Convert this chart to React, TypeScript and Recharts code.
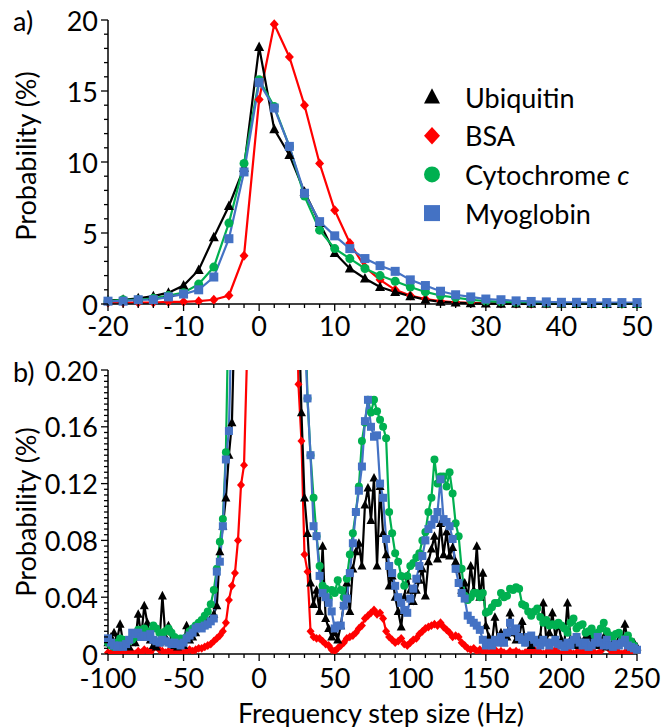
import React from "react";
import { Legend, Line, LineChart, XAxis, YAxis } from "recharts";

const FONT = "Lato, 'Open Sans', sans-serif";
const FS = 27;

// panel a) 2 Hz bins
const freqA = [
  -20, -18, -16, -14, -12, -10, -8, -6, -4, -2, 0, 2, 4, 6, 8, 10, 12, 14, 16, 18,
  20, 22, 24, 26, 28, 30, 32, 34, 36, 38, 40, 42, 44, 46, 48, 50,
];
const ubiquitinA = [
  0.25, 0.3, 0.4, 0.55, 0.8, 1.3, 2.4, 4.7, 6.9, 9.6, 18.1, 12.3, 10.5, 7.9, 5.7, 3.6, 2.5, 1.8, 1.2, 0.85,
  0.55, 0.3, 0.15, 0.1, 0.05, 0.03, 0.02, 0.02, 0.01, 0.01, 0.01, 0, 0, 0, 0, 0,
];
const bsaA = [
  0.1, 0.1, 0.1, 0.1, 0.15, 0.15, 0.2, 0.3, 0.6, 3.4, 14.4, 19.7, 17.4, 14.0, 9.9, 6.6, 4.3, 2.6, 1.7, 1.0,
  0.6, 0.35, 0.2, 0.12, 0.08, 0.05, 0.03, 0.02, 0.01, 0.01, 0.01, 0.01, 0.01, 0.01, 0.01, 0.01,
];
const cytochromeA = [
  0.2, 0.3, 0.3, 0.4, 0.6, 0.8, 1.4, 2.6, 5.7, 9.9, 15.8, 13.9, 11.1, 7.6, 5.2, 3.9, 3.2, 2.5, 2.0, 1.6,
  1.2, 0.85, 0.6, 0.45, 0.3, 0.2, 0.15, 0.1, 0.08, 0.06, 0.05, 0.04, 0.03, 0.02, 0.02, 0.01,
];
const myoglobinA = [
  0.2, 0.2, 0.3, 0.3, 0.5, 0.7, 1.0, 1.9, 4.6, 9.3, 15.6, 13.8, 11.1, 7.8, 5.8, 4.8, 3.9, 3.2, 2.7, 2.3,
  1.7, 1.3, 0.9, 0.65, 0.5, 0.35, 0.3, 0.22, 0.18, 0.15, 0.12, 0.12, 0.1, 0.1, 0.1, 0.1,
];

// panel b) 2 Hz bins from -100 to 250 Hz
const freqB = Array.from({ length: 176 }, (_, i) => -100 + 2 * i);
const ubiquitinB = [
  0.008, 0.012, 0.015, 0.010, 0.021, 0.008, 0.006, 0.005, 0.013, 0.008, // -100
  0.028, 0.012, 0.034, 0.022, 0.010, 0.006, 0.005, 0.008, 0.041, 0.012, // -80
  0.020, 0.010, 0.006, 0.005, 0.008, 0.006, 0.020, 0.010, 0.012, 0.015, // -60
  0.018, 0.020, 0.022, 0.023, 0.025, 0.028, 0.034, 0.072, 0.090, 0.110, // -40
  0.140, 0.163, 0.25, 0.5, 0.8, 1.3, 2.4, 4.7, 6.9, 9.6, // -20
  18.1, 12.3, 10.5, 7.9, 5.7, 3.6, 2.5, 1.8, 1.2, 0.85, // 0
  0.55, 0.4, 0.3, 0.25, 0.17, 0.11, 0.085, 0.05, 0.035, 0.045, // 20
  0.030, 0.076, 0.025, 0.018, 0.012, 0.015, 0.010, 0.020, 0.035, 0.050, // 40
  0.030, 0.060, 0.072, 0.078, 0.062, 0.105, 0.117, 0.094, 0.124, 0.062, // 60
  0.118, 0.085, 0.070, 0.048, 0.055, 0.040, 0.030, 0.019, 0.040, 0.055, // 80
  0.045, 0.037, 0.045, 0.052, 0.060, 0.041, 0.065, 0.074, 0.083, 0.067, // 100
  0.092, 0.070, 0.086, 0.069, 0.075, 0.065, 0.060, 0.045, 0.050, 0.040, // 120
  0.062, 0.045, 0.076, 0.040, 0.057, 0.020, 0.012, 0.008, 0.026, 0.010, // 140
  0.015, 0.008, 0.012, 0.029, 0.015, 0.010, 0.012, 0.023, 0.010, 0.008, // 160
  0.006, 0.010, 0.008, 0.012, 0.036, 0.010, 0.015, 0.029, 0.012, 0.021, // 180
  0.010, 0.008, 0.036, 0.010, 0.008, 0.006, 0.010, 0.008, 0.012, 0.013, // 200
  0.008, 0.010, 0.006, 0.008, 0.012, 0.005, 0.006, 0.008, 0.006, 0.010, // 220
  0.008, 0.021, 0.008, 0.005, 0.008, 0.005, // 240
];
const bsaB = [
  0.001, 0.001, 0.000, 0.002, 0.001, 0.000, 0.001, 0.002, 0.001, 0.000,
  0.002, 0.001, 0.003, 0.002, 0.001, 0.004, 0.006, 0.003, 0.002, 0.001,
  0.002, 0.001, 0.003, 0.001, 0.002, 0.001, 0.002, 0.003, 0.002, 0.003,
  0.004, 0.004, 0.005, 0.006, 0.007, 0.009, 0.011, 0.013, 0.016, 0.022,
  0.038, 0.048, 0.057, 0.080, 0.119, 0.133, 0.21, 0.35, 0.6, 3.4,
  14.4, 19.7, 17.4, 14.0, 9.9, 6.6, 4.3, 2.6, 1.7, 1.0,
  0.6, 0.4, 0.3, 0.19, 0.150, 0.070, 0.058, 0.016, 0.012, 0.011,
  0.011, 0.009, 0.007, 0.006, 0.003, 0.002, 0.004, 0.006, 0.008, 0.011,
  0.012, 0.013, 0.015, 0.018, 0.020, 0.025, 0.027, 0.029, 0.031, 0.028,
  0.029, 0.025, 0.016, 0.012, 0.010, 0.008, 0.009, 0.011, 0.007, 0.006,
  0.008, 0.010, 0.011, 0.014, 0.016, 0.018, 0.019, 0.020, 0.021, 0.020,
  0.022, 0.019, 0.017, 0.015, 0.012, 0.013, 0.012, 0.008, 0.006, 0.004,
  0.003, 0.004, 0.002, 0.003, 0.002, 0.001, 0.002, 0.001, 0.003, 0.001,
  0.002, 0.001, 0.000, 0.002, 0.001, 0.002, 0.001, 0.000, 0.001, 0.002,
  0.001, 0.003, 0.002, 0.001, 0.000, 0.001, 0.002, 0.001, 0.003, 0.001,
  0.000, 0.001, 0.002, 0.001, 0.000, 0.001, 0.002, 0.001, 0.003, 0.001,
  0.002, 0.001, 0.000, 0.002, 0.006, 0.008, 0.003, 0.001, 0.002, 0.001,
  0.000, 0.001, 0.002, 0.001, 0.002, 0.001,
];
const cytochromeB = [
  0.008, 0.006, 0.005, 0.008, 0.011, 0.010, 0.008, 0.009, 0.010, 0.012,
  0.017, 0.015, 0.018, 0.014, 0.016, 0.020, 0.018, 0.015, 0.013, 0.016,
  0.018, 0.015, 0.012, 0.010, 0.011, 0.009, 0.012, 0.016, 0.018, 0.020,
  0.022, 0.024, 0.027, 0.030, 0.035, 0.045, 0.060, 0.079, 0.095, 0.142,
  0.26, 0.3, 0.35, 0.4, 0.6, 0.8, 1.4, 2.6, 5.7, 9.9,
  15.8, 13.9, 11.1, 7.6, 5.2, 3.9, 3.2, 2.5, 2.0, 1.6,
  1.2, 0.85, 0.6, 0.45, 0.3, 0.26, 0.18, 0.14, 0.11, 0.083,
  0.062, 0.048, 0.046, 0.039, 0.045, 0.043, 0.052, 0.045, 0.040, 0.053,
  0.070, 0.085, 0.100, 0.118, 0.150, 0.163, 0.179, 0.170, 0.179, 0.171,
  0.165, 0.160, 0.152, 0.100, 0.085, 0.071, 0.065, 0.055, 0.048, 0.055,
  0.062, 0.064, 0.068, 0.071, 0.080, 0.086, 0.100, 0.110, 0.137, 0.120,
  0.125, 0.125, 0.118, 0.128, 0.113, 0.092, 0.083, 0.060, 0.041, 0.038,
  0.040, 0.043, 0.043, 0.040, 0.043, 0.029, 0.030, 0.033, 0.036, 0.036,
  0.043, 0.040, 0.041, 0.046, 0.045, 0.047, 0.046, 0.035, 0.034, 0.030,
  0.027, 0.030, 0.032, 0.026, 0.022, 0.024, 0.020, 0.021, 0.020, 0.022,
  0.020, 0.018, 0.015, 0.022, 0.025, 0.018, 0.020, 0.021, 0.015, 0.016,
  0.018, 0.013, 0.015, 0.018, 0.022, 0.016, 0.013, 0.012, 0.014, 0.015,
  0.010, 0.011, 0.013, 0.009, 0.006, 0.003,
];
const myoglobinB = [
  0.011, 0.008, 0.006, 0.005, 0.006, 0.005, 0.007, 0.010, 0.015, 0.014,
  0.015, 0.012, 0.013, 0.012, 0.014, 0.010, 0.009, 0.008, 0.010, 0.009,
  0.008, 0.007, 0.008, 0.007, 0.006, 0.008, 0.011, 0.013, 0.015, 0.018,
  0.019, 0.018, 0.020, 0.021, 0.023, 0.025, 0.058, 0.065, 0.090, 0.137,
  0.157, 0.25, 0.3, 0.35, 0.5, 0.7, 1.0, 1.9, 4.6, 9.3,
  15.6, 13.8, 11.1, 7.8, 5.8, 4.8, 3.9, 3.2, 2.7, 2.3,
  1.7, 1.3, 0.9, 0.65, 0.5, 0.23, 0.18, 0.14, 0.09, 0.083,
  0.055, 0.043, 0.040, 0.036, 0.030, 0.018, 0.020, 0.020, 0.034, 0.039,
  0.057, 0.078, 0.100, 0.115, 0.132, 0.164, 0.179, 0.160, 0.153, 0.154,
  0.120, 0.110, 0.081, 0.062, 0.057, 0.048, 0.040, 0.036, 0.031, 0.029,
  0.039, 0.046, 0.053, 0.062, 0.069, 0.080, 0.088, 0.091, 0.095, 0.100,
  0.123, 0.095, 0.093, 0.090, 0.081, 0.060, 0.050, 0.043, 0.039, 0.027,
  0.024, 0.022, 0.020, 0.017, 0.010, 0.006, 0.008, 0.006, 0.010, 0.008,
  0.012, 0.008, 0.015, 0.022, 0.016, 0.018, 0.012, 0.010, 0.008, 0.012,
  0.013, 0.010, 0.008, 0.006, 0.010, 0.008, 0.006, 0.008, 0.010, 0.007,
  0.006, 0.005, 0.008, 0.006, 0.010, 0.012, 0.008, 0.006, 0.008, 0.005,
  0.006, 0.008, 0.012, 0.008, 0.006, 0.010, 0.006, 0.005, 0.007, 0.006,
  0.008, 0.010, 0.006, 0.005, 0.004, 0.003,
];

// axis ticks
const xMajorA = [-20, -10, 0, 10, 20, 30, 40, 50];
const yMajorA = [0, 5, 10, 15, 20];
const xMajorB = [-100, -50, 0, 50, 100, 150, 200, 250];
const yMajorB = [0, 0.04, 0.08, 0.12, 0.16, 0.2];

const steps = (from: number, to: number, step: number) =>
  Array.from({ length: Math.round((to - from) / step) + 1 }, (_, i) => Number((from + i * step).toFixed(4)));

const xMinorA = steps(-20, 50, 2);
const yMinorA = steps(0, 20, 1);
const xMinorB = steps(-100, 250, 10);
const yMinorB = steps(0, 0.2, 0.004);

const dataA = freqA.map((f, i) => ({
  f,
  ubiquitin: ubiquitinA[i],
  bsa: bsaA[i],
  cytochrome: cytochromeA[i],
  myoglobin: myoglobinA[i],
}));
const dataB = freqB.map((f, i) => ({
  f,
  ubiquitin: ubiquitinB[i],
  bsa: bsaB[i],
  cytochrome: cytochromeB[i],
  myoglobin: myoglobinB[i],
}));

type Shape = "triangle" | "diamond" | "circle" | "square";

const series: { key: string; name: string; shape: Shape; color: string; italic?: string }[] = [
  { key: "ubiquitin", name: "Ubiquitin", shape: "triangle", color: "#000000" },
  { key: "bsa", name: "BSA", shape: "diamond", color: "#FF0000" },
  { key: "cytochrome", name: "Cytochrome ", shape: "circle", color: "#00B050", italic: "c" },
  { key: "myoglobin", name: "Myoglobin", shape: "square", color: "#4472C4" },
];
// drawing order (last on top)
const drawOrder = ["bsa", "ubiquitin", "cytochrome", "myoglobin"];

function Marker({ shape, cx, cy, size, color }: { shape: Shape; cx: number; cy: number; size: number; color: string }) {
  const h = size / 2;
  if (shape === "circle") return <circle cx={cx} cy={cy} r={h} fill={color} />;
  if (shape === "square") return <rect x={cx - h} y={cy - h} width={size} height={size} fill={color} />;
  if (shape === "diamond")
    return <path d={`M${cx},${cy - h * 1.1}L${cx + h},${cy}L${cx},${cy + h * 1.1}L${cx - h},${cy}Z`} fill={color} />;
  return <path d={`M${cx},${cy - h * 1.1}L${cx + h},${cy + h * 0.8}L${cx - h},${cy + h * 0.8}Z`} fill={color} />;
}

const dotFor = (shape: Shape, color: string, size: number) => (p: any) => {
  if (p.cx == null || p.cy == null) return <g key={`d${p.index}`} />;
  return <Marker key={`d${p.index}`} shape={shape} cx={p.cx} cy={p.cy} size={size} color={color} />;
};

function XTick(props: any) {
  const { x, y, payload, majors, fmt, dy } = props;
  const major = majors.includes(payload.value);
  return (
    <g>
      <line x1={x} y1={y} x2={x} y2={y + (major ? 7 : 4)} stroke="#000" strokeWidth={1.3} />
      {major && (
        <text x={x} y={y + dy} textAnchor="middle" dominantBaseline="central" fontFamily={FONT} fontSize={FS} fill="#000">
          {fmt(payload.value)}
        </text>
      )}
    </g>
  );
}

function YTick(props: any) {
  const { x, y, payload, majors, fmt } = props;
  const major = majors.includes(payload.value);
  return (
    <g>
      <line x1={x - (major ? 7 : 4)} y1={y} x2={x} y2={y} stroke="#000" strokeWidth={1.3} />
      {major && (
        <text x={x - 10} y={y} textAnchor="end" dominantBaseline="central" fontFamily={FONT} fontSize={FS} fill="#000">
          {fmt(payload.value)}
        </text>
      )}
    </g>
  );
}

const sideLabel = (panel: string, cy: number, py: number) => () => (
  <g fontFamily={FONT} fontSize={FS} fill="#000">
    <text x={25} y={cy} transform={`rotate(-90 25 ${cy})`} textAnchor="middle" dominantBaseline="central">
      Probability (%)
    </text>
    <text x={13} y={py} dominantBaseline="central">
      {panel}
    </text>
  </g>
);

const bottomLabel = () => (
  <text x={381} y={372} textAnchor="middle" dominantBaseline="central" fontFamily={FONT} fontSize={FS} fill="#000">
    Frequency step size (Hz)
  </text>
);

const renderLegend = () => (
  <svg width={250} height={160}>
    {series.map((s, i) => (
      <g key={s.key}>
        <Marker shape={s.shape} cx={22} cy={27 + i * 38.7} size={16} color={s.color} />
        <text x={55} y={27 + i * 38.7} dominantBaseline="central" fontFamily={FONT} fontSize={FS} fill="#000">
          {s.name}
          {s.italic && <tspan fontStyle="italic">{s.italic}</tspan>}
        </text>
      </g>
    ))}
  </svg>
);

const axisLine = { stroke: "#000", strokeWidth: 1.5 };

export default function App() {
  const lines = (size: number) =>
    drawOrder.map((k) => {
      const s = series.find((x) => x.key === k)!;
      return (
        <Line
          key={k}
          type="linear"
          dataKey={k}
          name={s.name}
          stroke={s.color}
          strokeWidth={2.2}
          dot={dotFor(s.shape, s.color, s.shape === "triangle" ? size + 1 : size)}
          activeDot={false}
          isAnimationActive={false}
        />
      );
    });

  return (
    <div style={{ position: "absolute", left: 0, top: 0, width: 663, height: 727, background: "#fff" }}>
      <div style={{ position: "absolute", left: 0, top: 0 }}>
        <LineChart width={663} height={340} data={dataA} margin={{ top: 20, right: 26, left: 8, bottom: 0 }}>
          <XAxis
            dataKey="f"
            type="number"
            domain={[-20, 50]}
            ticks={xMinorA}
            interval={0}
            height={36}
            tickSize={0}
            tickMargin={0}
            tickLine={false}
            axisLine={axisLine}
            tick={(p: any) => <XTick {...p} majors={xMajorA} fmt={String} dy={21} />}
          />
          <YAxis
            type="number"
            domain={[0, 20]}
            ticks={yMinorA}
            interval={0}
            width={100}
            tickSize={0}
            tickMargin={0}
            tickLine={false}
            axisLine={axisLine}
            tick={(p: any) => <YTick {...p} majors={yMajorA} fmt={String} />}
            label={sideLabel("a)", 156, 20)}
          />
          <Legend
            layout="vertical"
            align="center"
            verticalAlign="middle"
            wrapperStyle={{ left: 410, top: 70, width: 250 }}
            content={renderLegend}
          />
          {lines(9)}
        </LineChart>
      </div>
      <div style={{ position: "absolute", left: 0, top: 340 }}>
        <LineChart width={663} height={387} data={dataB} margin={{ top: 30, right: 26, left: 8, bottom: 0 }}>
          <XAxis
            dataKey="f"
            type="number"
            domain={[-100, 250]}
            ticks={xMinorB}
            interval={0}
            height={73}
            tickSize={0}
            tickMargin={0}
            tickLine={false}
            axisLine={axisLine}
            tick={(p: any) => <XTick {...p} majors={xMajorB} fmt={String} dy={23} />}
            label={bottomLabel}
          />
          <YAxis
            type="number"
            domain={[0, 0.2]}
            allowDataOverflow
            ticks={yMinorB}
            interval={0}
            width={100}
            tickSize={0}
            tickMargin={0}
            tickLine={false}
            axisLine={axisLine}
            tick={(p: any) => (
              <YTick {...p} majors={yMajorB} fmt={(v: number) => (v === 0 ? "0" : v.toFixed(2))} />
            )}
            label={sideLabel("b)", 172, 31)}
          />
          {lines(8)}
        </LineChart>
      </div>
    </div>
  );
}
